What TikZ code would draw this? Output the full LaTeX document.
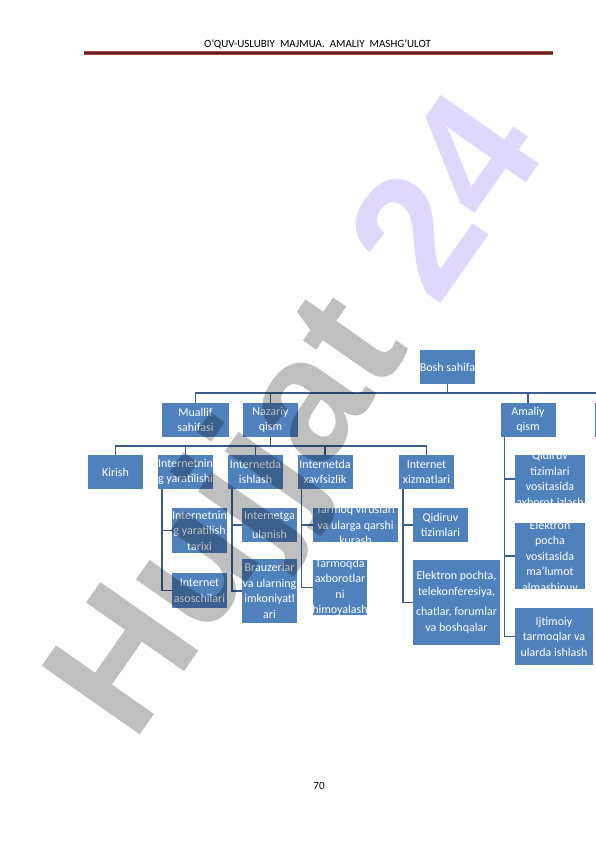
\documentclass[tikz,border=0pt]{standalone}
\usepackage{fontspec}
\setmainfont{Carlito}
\newfontfamily\wmfont{Liberation Sans}
\definecolor{boxblue}{RGB}{79,129,189}
\definecolor{linkblue}{RGB}{56,93,138}
\definecolor{wmviolet}{RGB}{131,95,243}
\definecolor{rulered}{RGB}{170,75,70}
\definecolor{ruledark}{RGB}{92,31,31}
\newcommand{\boxfont}{\fontsize{12}{15.5}\selectfont}
\tikzset{
  box/.style={fill=boxblue, text=white, align=center, inner sep=0pt,
    minimum width=55pt, minimum height=34pt, font=\boxfont},
  cut/.style={path picture={\node[text=white, align=center, font=\boxfont]
    at (path picture bounding box.center) {#1};}},
  link/.style={draw=linkblue, line width=1.6pt},
}
\begin{document}
\begin{tikzpicture}[x=1pt, y=-1pt]
\useasboundingbox (0,0) rectangle (596,842);
\node[font=\fontsize{11}{13}\selectfont] (titul) at (317.5,44)
  {O’QUV-USLUBIY\ \ MAJMUA.\ \ AMALIY\ \ MASHG’ULOT};
\draw[rulered, line width=3.6pt] (84,53) -- (553,53);
\draw[ruledark, line width=2pt] (84,53) -- (553,53);
\node[font=\fontsize{11}{13}\selectfont] (bet) at (319,786) {70};
\node[box] (bosh) at (447.5,367) {Bosh sahifa};
\node[box, minimum width=67pt] (muallif) at (195.5,420) {Muallif\\sahifasi};
\node[box] (nazariy) at (270.5,420) {Nazariy\\qism};
\node[box] (amaliy) at (528,420) {Amaliy\\qism};
\node[box] (yana) at (622.5,420) {};
\node[box] (kirish) at (115.5,472) {Kirish};
\node[box] (yarat) at (185.5,472) {Internetnin\\g yaratilishi};
\node[box] (ishlash) at (255.5,472) {Internetda\\ishlash};
\node[box] (xavf) at (325,472) {Internetda\\xavfsizlik};
\node[box] (xizmat) at (426.5,472) {Internet\\xizmatlari};
\node[box, minimum height=45pt] (tarixi) at (199.5,530.5) {Internetnin\\g yaratilish\\tarixi};
\node[box, minimum height=35pt] (asos) at (199.5,590.5) {Internet\\asoschilari};
\node[box] (ulanish) at (269.5,525) {Internetga\\[3pt]ulanish};
\node[box, minimum height=64pt] (brauzer) at (269.5,591) {Brauzerlar\\va ularning\\imkoniyatl\\ari};
\node[box, minimum width=85pt, cut={Tarmoq viruslari\\va ularga qarshi\\kurash}] (virus) at (355.5,525) {};
\node[box, minimum width=54pt, minimum height=55pt, cut={Tarmoqda\\axborotlar\\ni\\himoyalash}] (himoya) at (340,587.5) {};
\node[box] (qidiruv) at (440.5,525) {Qidiruv\\tizimlari};
\node[box, minimum width=87pt, minimum height=85pt] (pochta) at (456.5,602.5)
  {Elektron pochta,\\telekonferesiya,\\[5pt]chatlar, forumlar\\va boshqalar};
\node[box, minimum width=70pt, minimum height=48pt, cut={Qidiruv\\tizimlari\\vositasida\\axborot izlash}] (izlash) at (550,479) {};
\node[box, minimum width=70pt, minimum height=66pt, cut={Elektron\\pocha\\vositasida\\ma’lumot\\almashinuv}] (almash) at (550,556) {};
\node[box, minimum width=78pt, minimum height=57pt] (ijtimoiy) at (554,636.5) {Ijtimoiy\\tarmoqlar va\\ularda ishlash};
\draw[link] (bosh.south) -- ++(0,9) coordinate (topbar);
\foreach \n in {muallif,nazariy,amaliy,yana}
  \draw[link] (topbar) -| (\n.north);
\draw[link] (nazariy.south) -- ++(0,9) coordinate (midbar);
\foreach \n in {kirish,yarat,ishlash,xavf,xizmat}
  \draw[link] (midbar) -| (\n.north);
\foreach \p/\c in {yarat/tarixi,yarat/asos,ishlash/ulanish,ishlash/brauzer,
    xavf/virus,xavf/himoya,xizmat/qidiruv,xizmat/pochta,
    amaliy/izlash,amaliy/almash,amaliy/ijtimoiy}
  \draw[link] ([xshift=4pt]\p.south west) |- (\c.west);
\node[opacity=0.25, rotate=55, anchor=base,
  font=\wmfont\bfseries\fontsize{174}{174}\selectfont] (belgi) at (341,447)
  {Hujjat \textcolor{wmviolet}{24}};
\end{tikzpicture}
\end{document}
